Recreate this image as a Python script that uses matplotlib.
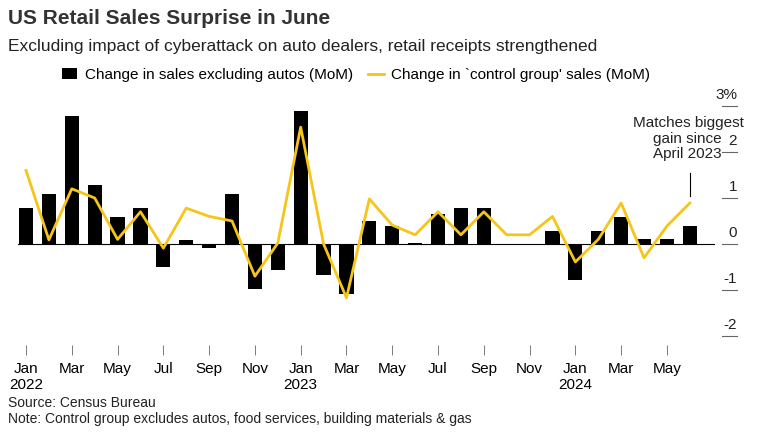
import matplotlib
matplotlib.use("Agg")
import matplotlib.pyplot as plt
import numpy as np

months = ["Jan","Feb","Mar","Apr","May","Jun","Jul","Aug","Sep","Oct","Nov","Dec"]*2 + ["Jan","Feb","Mar","Apr","May","Jun"]
ex_autos = [0.78,1.09,2.78,1.28,0.59,0.78,-0.5,0.09,-0.09,1.09,-0.98,-0.57,
            2.89,-0.67,-1.09,0.5,0.39,0.02,0.65,0.78,0.78,-0.02,0.0,0.28,
            -0.78,0.28,0.59,0.1,0.1,0.39]
control = [1.6,0.09,1.2,1.0,0.1,0.7,-0.09,0.78,0.6,0.5,-0.7,0.02,
           2.54,0.0,-1.17,0.98,0.41,0.2,0.7,0.2,0.7,0.2,0.2,0.6,
           -0.39,0.1,0.89,-0.3,0.39,0.89]
tick_labels = ["Jan\n2022","Mar","May","Jul","Sep","Nov","Jan\n2023","Mar","May","Jul","Sep","Nov","Jan\n2024","Mar","May"]
y_ticks = [-2,-1,0,1,2,3]
y_labels = ["-2","-1","0","1","2","3%"]

plt.rcParams['font.family'] = ['Liberation Sans', 'DejaVu Sans']
W, H = 775, 436
fig = plt.figure(figsize=(7.75,4.36), dpi=100)
def fx(p): return p / W
def fy(p): return 1 - p / H
bottom = 345
ax = fig.add_axes([fx(18), fy(bottom), fx(715-18), (bottom-85)/H])
ax.set_ylim(-(bottom-244)/46.0, (244-85)/46.0)
x = np.arange(len(ex_autos))
ax.bar(x, ex_autos, width=0.62, color="black", label="Change in sales excluding autos (MoM)", zorder=2)
ax.plot(x, control, color="#f5c518", lw=2, label="Change in `control group' sales (MoM)", zorder=3)
ax.axhline(0, color="black", lw=0.8, zorder=1)
ax.set_xlim(-0.35, 30.1)
for s in ax.spines.values():
    s.set_visible(False)
ax.set_yticks([])
ax.set_xticks(x[::2])
ax.set_xticklabels(tick_labels)
ax.tick_params(axis="x", length=7, width=0.6, color="#666", labelsize=11, pad=5)

trans = fig.transFigure
for v, lab in zip(y_ticks, y_labels):
    py = 244 - 46*v
    fig.add_artist(plt.Line2D([fx(722), fx(737)], [fy(py), fy(py)], color="#666", lw=0.8, transform=trans))
    fig.text(fx(737), fy(py-4), lab, ha="right", va="bottom", fontsize=11, color="#222")

ax.plot([29,29],[1.05,1.55], color="black", lw=0.8)
fig.text(fx(744), fy(123), "Matches biggest", ha="right", va="center", fontsize=11, color="#222")
fig.text(fx(722), fy(139), "gain since", ha="right", va="center", fontsize=11, color="#222")
fig.text(fx(722), fy(154), "April 2023", ha="right", va="center", fontsize=11, color="#222")

fig.text(fx(8), fy(18), "US Retail Sales Surprise in June", fontsize=15, fontweight="bold", va="center", color="#333")
fig.text(fx(8), fy(47), "Excluding impact of cyberattack on auto dealers, retail receipts strengthened", fontsize=12.5, va="center", color="#222")
h, l = ax.get_legend_handles_labels()
ax.legend([h[1], h[0]], [l[1], l[0]], loc="center left", bbox_to_anchor=(fx(62), fy(75)), bbox_transform=trans, ncol=2, frameon=False,
          fontsize=11, handlelength=1.0, handletextpad=0.5, columnspacing=1.0, borderaxespad=0, borderpad=0)
fig.text(fx(8), fy(403), "Source: Census Bureau", fontsize=10, va="center", color="#222")
fig.text(fx(8), fy(419), "Note: Control group excludes autos, food services, building materials & gas", fontsize=10, va="center", color="#222")
fig.savefig("out.png", dpi=100)
